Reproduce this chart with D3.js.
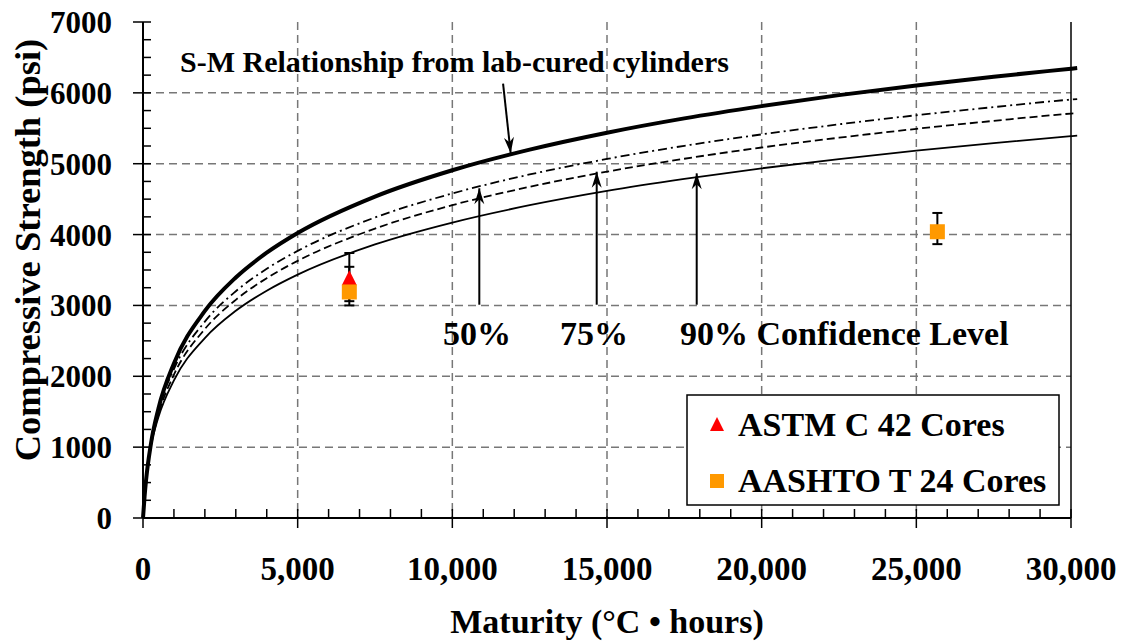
<!DOCTYPE html>
<html><head><meta charset="utf-8">
<script src="https://cdn.jsdelivr.net/npm/d3@7"></script>
<style>
html,body{margin:0;padding:0;background:#fff;}
</style></head>
<body><svg id="c" width="1131" height="641" font-family="'Liberation Serif', 'Times New Roman', Times, serif" font-weight="bold"></svg>
<script>
// ---- data ----
const maturity = [0, 25, 50, 100, 250, 500, 1000, 2000, 3000, 4000, 5000, 7500, 10000, 12500, 15000, 17500, 20000, 22500, 25000, 27500, 30000, 30200];
const smLab   = [0, 148, 297, 538, 1031, 1547, 2181, 2922, 3394, 3744, 4022, 4536, 4908, 5199, 5438, 5640, 5813, 5968, 6105, 6228, 6341, 6350];
const conf50  = [0, 146, 293, 530, 1020, 1521, 2101, 2772, 3200, 3517, 3770, 4241, 4580, 4848, 5067, 5253, 5414, 5556, 5684, 5799, 5905, 5912];
const conf75  = [0, 144, 290, 525, 1010, 1466, 2022, 2667, 3079, 3385, 3629, 4084, 4415, 4674, 4888, 5070, 5229, 5367, 5492, 5605, 5708, 5715];
const conf90  = [0, 142, 287, 520,  997, 1424, 1941, 2539, 2924, 3208, 3435, 3861, 4170, 4414, 4616, 4785, 4935, 5066, 5184, 5292, 5388, 5395];

const astmM  = [6670];  const astmS  = [3370];       const astmLo  = [3000];       const astmHi  = [3740];
const aashM  = [6670, 25680]; const aashS = [3190, 4040]; const aashLo = [3060, 3865]; const aashHi = [3545, 4305];

const xTicks = [0, 5000, 10000, 15000, 20000, 25000, 30000];
const xTickLabels = ["0", "5,000", "10,000", "15,000", "20,000", "25,000", "30,000"];
const yTicks = [0, 1000, 2000, 3000, 4000, 5000, 6000, 7000];
const yTickLabels = ["0", "1000", "2000", "3000", "4000", "5000", "6000", "7000"];

const annoTitle = "S-M Relationship from lab-cured cylinders";
const confLabels = ["50%", "75%", "90% Confidence Level"];
const confArrowM = [10872, 14667, 17900];
const confArrowTip = [4653, 4887, 4864];
const smArrow = {m0: 11640, s0: 6130, m1: 11887, s1: 5147};

// ---- layout ----
const svg = d3.select("#c");
const L = 143, R = 1071, T = 22, B = 518;
const x = d3.scaleLinear().domain([0, 30000]).range([L, R]);
const y = d3.scaleLinear().domain([0, 7000]).range([B, T]);

// grid
const grid = svg.append("g").attr("stroke", "#777").attr("stroke-width", 1.5).attr("stroke-dasharray", "8,5");
yTicks.filter(v => v > 0 && v < 7000).forEach(v => grid.append("line").attr("x1", L).attr("x2", R).attr("y1", y(v)).attr("y2", y(v)));
xTicks.filter(v => v > 0 && v < 30000).forEach(v => grid.append("line").attr("x1", x(v)).attr("x2", x(v)).attr("y1", T).attr("y2", B));
// right border
svg.append("line").attr("x1", x(30000)).attr("x2", x(30000)).attr("y1", T).attr("y2", B).attr("stroke", "#000").attr("stroke-width", 1.5);

// curves
const line = d3.line().x(d => x(d[0])).y(d => y(d[1])).curve(d3.curveMonotoneX);
const mk = arr => maturity.map((m, i) => [m, arr[i]]);
svg.append("path").attr("d", line(mk(conf90))).attr("fill", "none").attr("stroke", "#000").attr("stroke-width", 1.8);
svg.append("path").attr("d", line(mk(conf75))).attr("fill", "none").attr("stroke", "#000").attr("stroke-width", 1.8).attr("stroke-dasharray", "8,4");
svg.append("path").attr("d", line(mk(conf50))).attr("fill", "none").attr("stroke", "#000").attr("stroke-width", 1.8).attr("stroke-dasharray", "9,4,2,4");
svg.append("path").attr("d", line(mk(smLab))).attr("fill", "none").attr("stroke", "#000").attr("stroke-width", 4);

// error bars
function errBars(M, Lo, Hi) {
  M.forEach((m, i) => {
    const g = svg.append("g").attr("stroke", "#000").attr("stroke-width", 2);
    g.append("line").attr("x1", x(m)).attr("x2", x(m)).attr("y1", y(Lo[i])).attr("y2", y(Hi[i]));
    [Lo[i], Hi[i]].forEach(v => g.append("line").attr("x1", x(m) - 5).attr("x2", x(m) + 5).attr("y1", y(v)).attr("y2", y(v)));
  });
}
errBars(astmM, astmLo, astmHi);
errBars(aashM, aashLo, aashHi);

// markers
const tri = (cx, cy) => `M${cx},${cy - 9}L${cx + 7.5},${cy + 6}L${cx - 7.5},${cy + 6}Z`;
astmM.forEach((m, i) => svg.append("path").attr("d", tri(x(m), y(astmS[i]))).attr("fill", "#ff0000"));
aashM.forEach((m, i) => svg.append("rect").attr("x", x(m) - 7.5).attr("y", y(aashS[i]) - 7.5).attr("width", 15).attr("height", 15).attr("fill", "#ff9900"));

// axes
const FS = 34;
const xAxis = svg.append("g").attr("transform", `translate(0,${B})`);
xAxis.append("line").attr("x1", L).attr("x2", R).attr("stroke", "#000").attr("stroke-width", 2);
d3.range(0, 30001, 1000).forEach(v => {
  const major = v % 5000 === 0;
  xAxis.append("line").attr("x1", x(v)).attr("x2", x(v)).attr("y1", major ? 10 : 0).attr("y2", -9).attr("stroke", "#000").attr("stroke-width", 1.5);
});
xAxis.selectAll("text.tl").data(xTicks).enter().append("text")
  .attr("x", d => x(d)).attr("y", 62).attr("text-anchor", "middle").attr("font-size", 33)
  .text((d, i) => xTickLabels[i]);

const yAxis = svg.append("g").attr("transform", `translate(${L},0)`);
yAxis.append("line").attr("y1", T).attr("y2", B).attr("stroke", "#000").attr("stroke-width", 2);
d3.range(0, 7001, 250).forEach(v => {
  const major = v % 1000 === 0;
  yAxis.append("line").attr("y1", y(v)).attr("y2", y(v)).attr("x1", major ? -10 : 0).attr("x2", 8).attr("stroke", "#000").attr("stroke-width", 1.5);
});
yAxis.selectAll("text.tl").data(yTicks).enter().append("text")
  .attr("x", -31).attr("y", d => y(d) + 11).attr("text-anchor", "end").attr("font-size", 31)
  .text((d, i) => yTickLabels[i]);

// axis titles
svg.append("text").attr("x", 607).attr("y", 633).attr("text-anchor", "middle").attr("font-size", FS).text("Maturity (°C • hours)");
svg.append("text").attr("transform", "translate(40,250) rotate(-90)").attr("text-anchor", "middle").attr("font-size", 36.5).text("Compressive Strength (psi)");

// annotations
svg.append("text").attr("x", 180).attr("y", 72).attr("font-size", 30).text(annoTitle);
const arrowHead = (tx, ty, dx, dy) => {
  const len = Math.hypot(dx, dy), ux = dx / len, uy = dy / len, px = -uy, py = ux;
  const bx = tx - ux * 16, by = ty - uy * 16, nx = tx - ux * 11, ny = ty - uy * 11;
  return `M${tx},${ty}L${bx + px * 5},${by + py * 5}L${nx},${ny}L${bx - px * 5},${by - py * 5}Z`;
};
function arrow(x0, y0, x1, y1) {
  svg.append("line").attr("x1", x0).attr("y1", y0).attr("x2", x1).attr("y2", y1).attr("stroke", "#000").attr("stroke-width", 2);
  svg.append("path").attr("d", arrowHead(x1, y1, x1 - x0, y1 - y0)).attr("fill", "#000");
}
arrow(x(smArrow.m0), y(smArrow.s0), x(smArrow.m1), y(smArrow.s1));
confArrowM.forEach((m, i) => arrow(x(m), y(3010), x(m), y(confArrowTip[i])));
const labelX = [443, 560, 680];
confLabels.forEach((t, i) => svg.append("text").attr("x", labelX[i]).attr("y", 345).attr("font-size", FS).text(t));

// legend
const lg = svg.append("g");
lg.append("rect").attr("x", 687).attr("y", 395).attr("width", 372).attr("height", 110).attr("fill", "#fff").attr("stroke", "#000").attr("stroke-width", 1.5);
lg.append("path").attr("d", `M717,417L724,431L710,431Z`).attr("fill", "#ff0000");
lg.append("text").attr("x", 738).attr("y", 436).attr("font-size", FS).text("ASTM C 42 Cores");
lg.append("rect").attr("x", 710).attr("y", 474).attr("width", 14).attr("height", 14).attr("fill", "#ff9900");
lg.append("text").attr("x", 738).attr("y", 492).attr("font-size", FS).text("AASHTO T 24 Cores");
</script></body></html>
